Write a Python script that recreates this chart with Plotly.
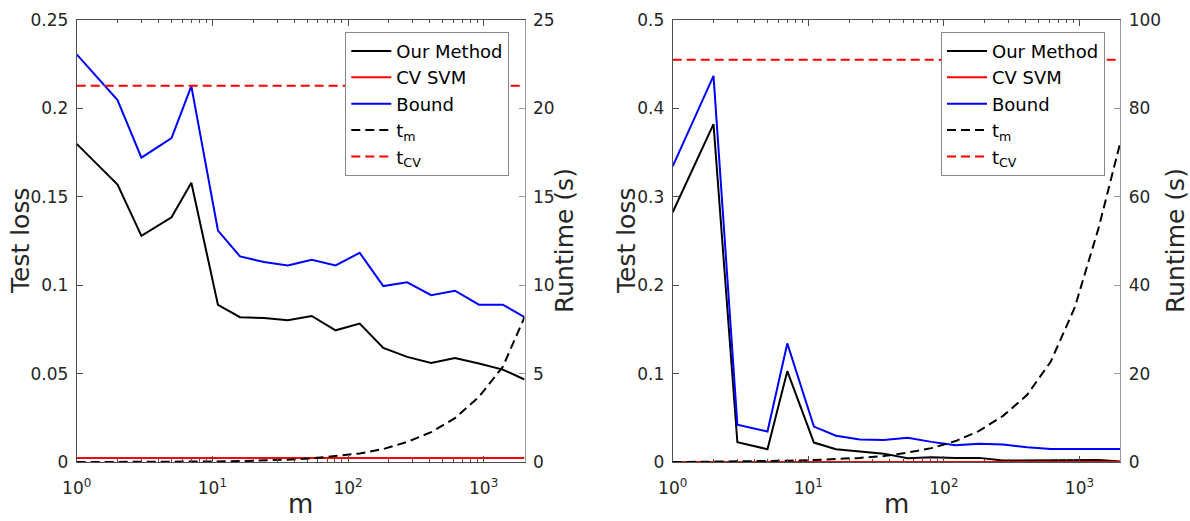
import math
import plotly.graph_objects as go

# ---------------- data ----------------
m_vals = [1, 2, 3, 5, 7, 11, 16, 24, 36, 54, 81, 122, 182, 273, 410, 615, 923, 1384, 2000]

# left panel
left_ours = [0.180, 0.157, 0.128, 0.1385, 0.158, 0.089, 0.082, 0.0816, 0.0803, 0.0827, 0.0746,
             0.0784, 0.0647, 0.0596, 0.0562, 0.059, 0.0558, 0.0524, 0.0468]
left_bound = [0.2306, 0.2047, 0.1722, 0.1833, 0.2126, 0.131, 0.1164, 0.1132, 0.1113, 0.1145, 0.1113,
              0.1184, 0.0996, 0.1017, 0.0945, 0.097, 0.0891, 0.0891, 0.0821]
left_cv_svm = 0.0024
left_t_m = [0.01, 0.01, 0.02, 0.03, 0.04, 0.05, 0.07, 0.10, 0.15, 0.22, 0.35, 0.5, 0.75, 1.15,
            1.7, 2.5, 3.7, 5.4, 8.2]
left_t_cv = 21.28

# right panel
right_ours = [0.2827, 0.3823, 0.0227, 0.0148, 0.103, 0.0223, 0.0148, 0.0121, 0.0098, 0.0045, 0.0057,
              0.005, 0.005, 0.002, 0.002, 0.0023, 0.0027, 0.0027, 0.001]
right_bound = [0.3346, 0.4368, 0.0425, 0.0348, 0.1344, 0.0404, 0.0301, 0.0257, 0.0253, 0.0277, 0.0231,
               0.0194, 0.0209, 0.0200, 0.0170, 0.0151, 0.0151, 0.0151, 0.0151]
right_cv_svm = 0.0003
right_t_m = [0.05, 0.1, 0.15, 0.25, 0.35, 0.5, 0.7, 1.0, 1.4, 2.2, 3.2, 4.8, 7.1, 10.5,
             15.2, 22.8, 35.0, 53.0, 72.3]
right_t_cv = 91.0

loss_range_left = [0, 0.25]
time_range_left = [0, 25]
loss_range_right = [0, 0.5]
time_range_right = [0, 100]

x_tick_vals = [1, 10, 100, 1000]
x_tick_text = ["10<sup>0</sup>", "10<sup>1</sup>", "10<sup>2</sup>", "10<sup>3</sup>"]

# ---------------- layout geometry ----------------
W, H = 1190, 521
def px_x(p):
    return p / W
def px_y(p):
    return 1 - p / H

top_px, bot_px = 20, 462.3
L_dom = [px_x(76.7), px_x(524.5)]
R_dom = [px_x(672.7), px_x(1120.3)]
Y_dom = [px_y(bot_px), px_y(top_px)]

FONT = "DejaVu Sans"
TXT = "#262626"
AX_DARK = "#4d4d4d"
AX_LIGHT = "#9a9a9a"

BLACK, RED, BLUE = "#000000", "#ff0000", "#0000ff"
LW = 2
DASH = "9px,5px"

minor_vals = [k * 10 ** d for d in range(0, 4) for k in range(2, 10)]

fig = go.Figure()

def add_panel(xa, ya, ya2, ours, bound, cv, tm, tcv, leg):
    xline = [m_vals[0], m_vals[-1]]
    fig.add_trace(go.Scatter(x=m_vals, y=ours, mode="lines", name="Our Method",
                             line=dict(color=BLACK, width=LW), xaxis=xa, yaxis=ya, legend=leg))
    fig.add_trace(go.Scatter(x=xline, y=[cv, cv], mode="lines", name="CV SVM",
                             line=dict(color=RED, width=LW), xaxis=xa, yaxis=ya, legend=leg))
    fig.add_trace(go.Scatter(x=m_vals, y=bound, mode="lines", name="Bound",
                             line=dict(color=BLUE, width=LW), xaxis=xa, yaxis=ya, legend=leg))
    fig.add_trace(go.Scatter(x=m_vals, y=tm, mode="lines", name="t<sub>m</sub>",
                             line=dict(color=BLACK, width=LW, dash=DASH), xaxis=xa, yaxis=ya2, legend=leg))
    fig.add_trace(go.Scatter(x=xline, y=[tcv, tcv], mode="lines", name="t<sub>CV</sub>",
                             line=dict(color=RED, width=LW, dash=DASH), xaxis=xa, yaxis=ya2, legend=leg))

add_panel("x", "y", "y2", left_ours, left_bound, left_cv_svm, left_t_m, left_t_cv, "legend")
add_panel("x2", "y3", "y4", right_ours, right_bound, right_cv_svm, right_t_m, right_t_cv, "legend2")

tickfont = dict(family=FONT, size=17, color=TXT)
xr = [0, math.log10(m_vals[-1])]

def xaxis(domain, anchor):
    return dict(domain=domain, anchor=anchor, type="log", range=xr, automargin=False,
                tickvals=x_tick_vals, ticktext=x_tick_text, ticks="inside", ticklen=6,
                ticklabelstandoff=10,
                tickcolor=AX_DARK, showline=True, linecolor=AX_DARK, linewidth=1, mirror="ticks",
                showgrid=False, zeroline=False, tickfont=tickfont,
                minor=dict(ticks="inside", ticklen=3, tickcolor=AX_DARK, tickvals=minor_vals, showgrid=False))

def yleft(domain, anchor, rng, dt):
    return dict(domain=domain, anchor=anchor, range=rng, dtick=dt, tick0=0, ticks="inside", ticklen=6,
                automargin=False, ticklabelstandoff=4,
                tickcolor=AX_DARK, showline=True, linecolor=AX_DARK, linewidth=1,
                showgrid=False, zeroline=False, tickfont=tickfont)

def yright(overlay, anchor, rng, dt):
    return dict(overlaying=overlay, anchor=anchor, side="right", range=rng, dtick=dt, tick0=0,
                automargin=False, ticklabelstandoff=4,
                ticks="inside", ticklen=6, tickcolor=AX_LIGHT, showline=True, linecolor=AX_LIGHT,
                linewidth=1, showgrid=False, zeroline=False, tickfont=tickfont)

legend_common = dict(font=dict(family=FONT, size=18, color="#000000"), bgcolor="white",
                     bordercolor="#888888", borderwidth=1, xanchor="left", yanchor="top",
                     traceorder="normal", itemwidth=40, tracegroupgap=0)

fig.update_layout(
    width=W, height=H, margin=dict(l=0, r=0, t=0, b=0, autoexpand=False),
    paper_bgcolor="white", plot_bgcolor="white",
    font=dict(family=FONT, color=TXT),
    xaxis=xaxis(L_dom, "y"),
    yaxis=yleft(Y_dom, "x", loss_range_left, 0.05),
    yaxis2=yright("y", "x", time_range_left, 5),
    xaxis2=xaxis(R_dom, "y3"),
    yaxis3=yleft(Y_dom, "x2", loss_range_right, 0.1),
    yaxis4=yright("y3", "x2", time_range_right, 20),
    legend=dict(x=px_x(345.3), y=px_y(31.7), **legend_common),
    legend2=dict(x=px_x(941), y=px_y(31.7), **legend_common),
    showlegend=True,
)

title_font = dict(family=FONT, size=25, color=TXT)
m_font = dict(family=FONT, size=26, color=TXT)
ann = [
    ("Test loss", 21, 241, -90, title_font),
    ("Runtime (s)", 565, 241, -90, title_font),
    ("Test loss", 627, 241, -90, title_font),
    ("Runtime (s)", 1176, 241, -90, title_font),
    ("m", 300.6, 503.5, 0, m_font),
    ("m", 896.5, 503.5, 0, m_font),
]
for text, ax_, ay_, rot, fnt in ann:
    fig.add_annotation(text=text, x=px_x(ax_), y=px_y(ay_), xref="paper", yref="paper",
                       xanchor="center", yanchor="middle", showarrow=False, textangle=rot, font=fnt)

fig.write_html("out.html", config={"displayModeBar": False},
               post_script="document.body.style.margin='0';document.body.style.padding='0';"
                           "document.documentElement.style.overflow='hidden';")
